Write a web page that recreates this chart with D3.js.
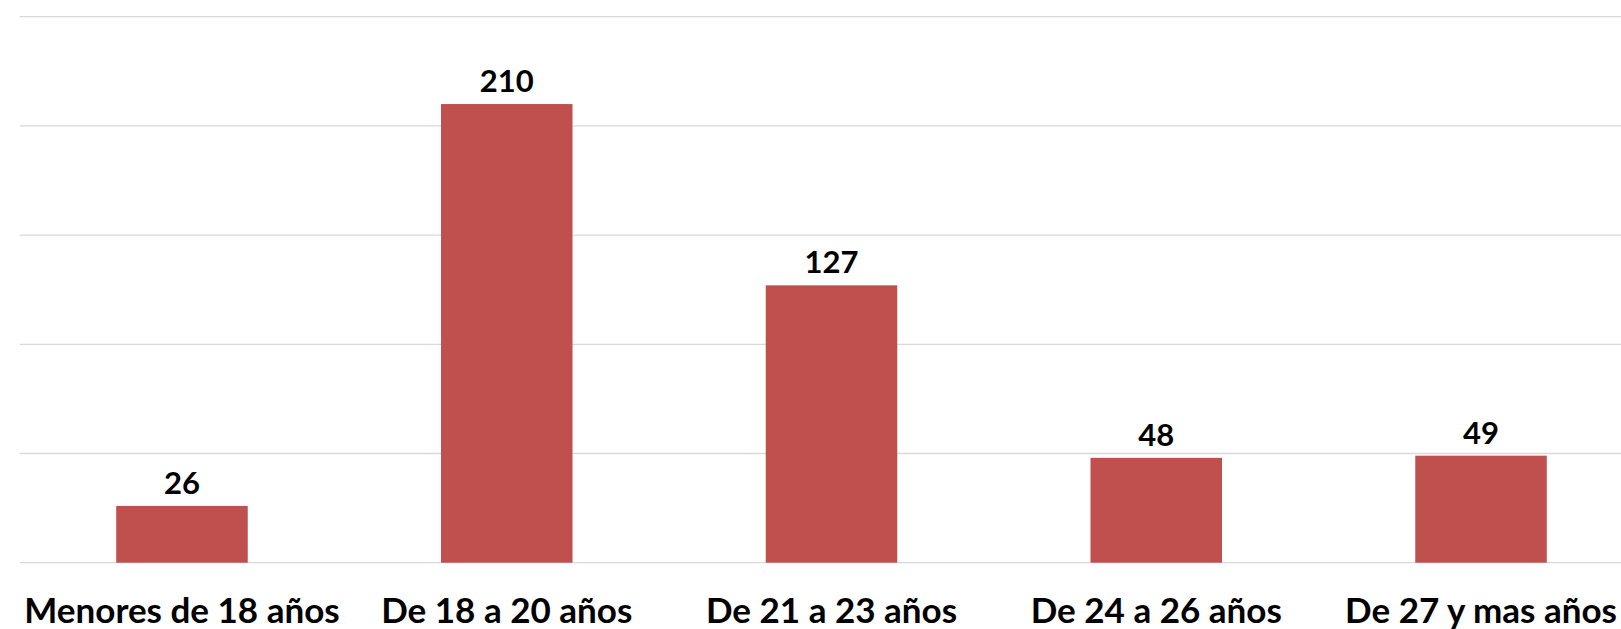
<!DOCTYPE html>
<html>
<head>
<meta charset="utf-8">
<script src="https://cdn.jsdelivr.net/npm/d3@7"></script>
<style>
  html, body { margin: 0; padding: 0; background: #fff; overflow: hidden; }
  svg { display: block; }
</style>
</head>
<body>
<svg id="chart" width="1621" height="629"></svg>
<script>
// age groups and counts
var categories = ["Menores de 18 años", "De 18 a 20 años", "De 21 a 23 años", "De 24 a 26 años", "De 27 y mas años"];
var values = [26, 210, 127, 48, 49];
var gridTicks = [0, 50, 100, 150, 200, 250];

var svg = d3.select("#chart");

var x = d3.scaleBand()
          .domain(categories)
          .range([19.6, 1643.4])
          .paddingInner(0.595)
          .paddingOuter(0.2975);

var y = d3.scaleLinear()
          .domain([0, 250])
          .range([562.7, 16.7]);

// horizontal grid
svg.append("g").selectAll("line")
   .data(gridTicks)
   .enter().append("line")
   .attr("x1", 19.6)
   .attr("x2", 1643.4)
   .attr("y1", function(d) { return y(d); })
   .attr("y2", function(d) { return y(d); })
   .attr("stroke", "#d9d9d9")
   .attr("stroke-width", 1.3);

var data = categories.map(function(c, i) { return {cat: c, val: values[i]}; });

svg.append("g").selectAll("rect")
   .data(data)
   .enter().append("rect")
   .attr("x", function(d) { return x(d.cat); })
   .attr("width", x.bandwidth())
   .attr("y", function(d) { return y(d.val); })
   .attr("height", function(d) { return y(0) - y(d.val); })
   .attr("fill", "#c0504d");

// value labels
svg.append("g").selectAll("text")
   .data(data)
   .enter().append("text")
   .attr("x", function(d) { return x(d.cat) + x.bandwidth() / 2; })
   .attr("y", function(d) { return y(d.val) - 12; })
   .attr("text-anchor", "middle")
   .style("font-family", "Lato, 'Open Sans', sans-serif")
   .style("font-weight", "bold")
   .style("font-size", "31px")
   .attr("fill", "#000")
   .text(function(d) { return d.val; });

// category axis
var xAxis = d3.axisBottom(x).tickSize(0).tickPadding(0);
var gx = svg.append("g")
   .attr("transform", "translate(0, 623.3)")
   .call(xAxis);
gx.select(".domain").remove();
gx.selectAll("text")
   .attr("dy", 0)
   .style("font-family", "Lato, 'Open Sans', sans-serif")
   .style("font-weight", "bold")
   .style("font-size", "35px")
   .attr("fill", "#000");
</script>
</body>
</html>
